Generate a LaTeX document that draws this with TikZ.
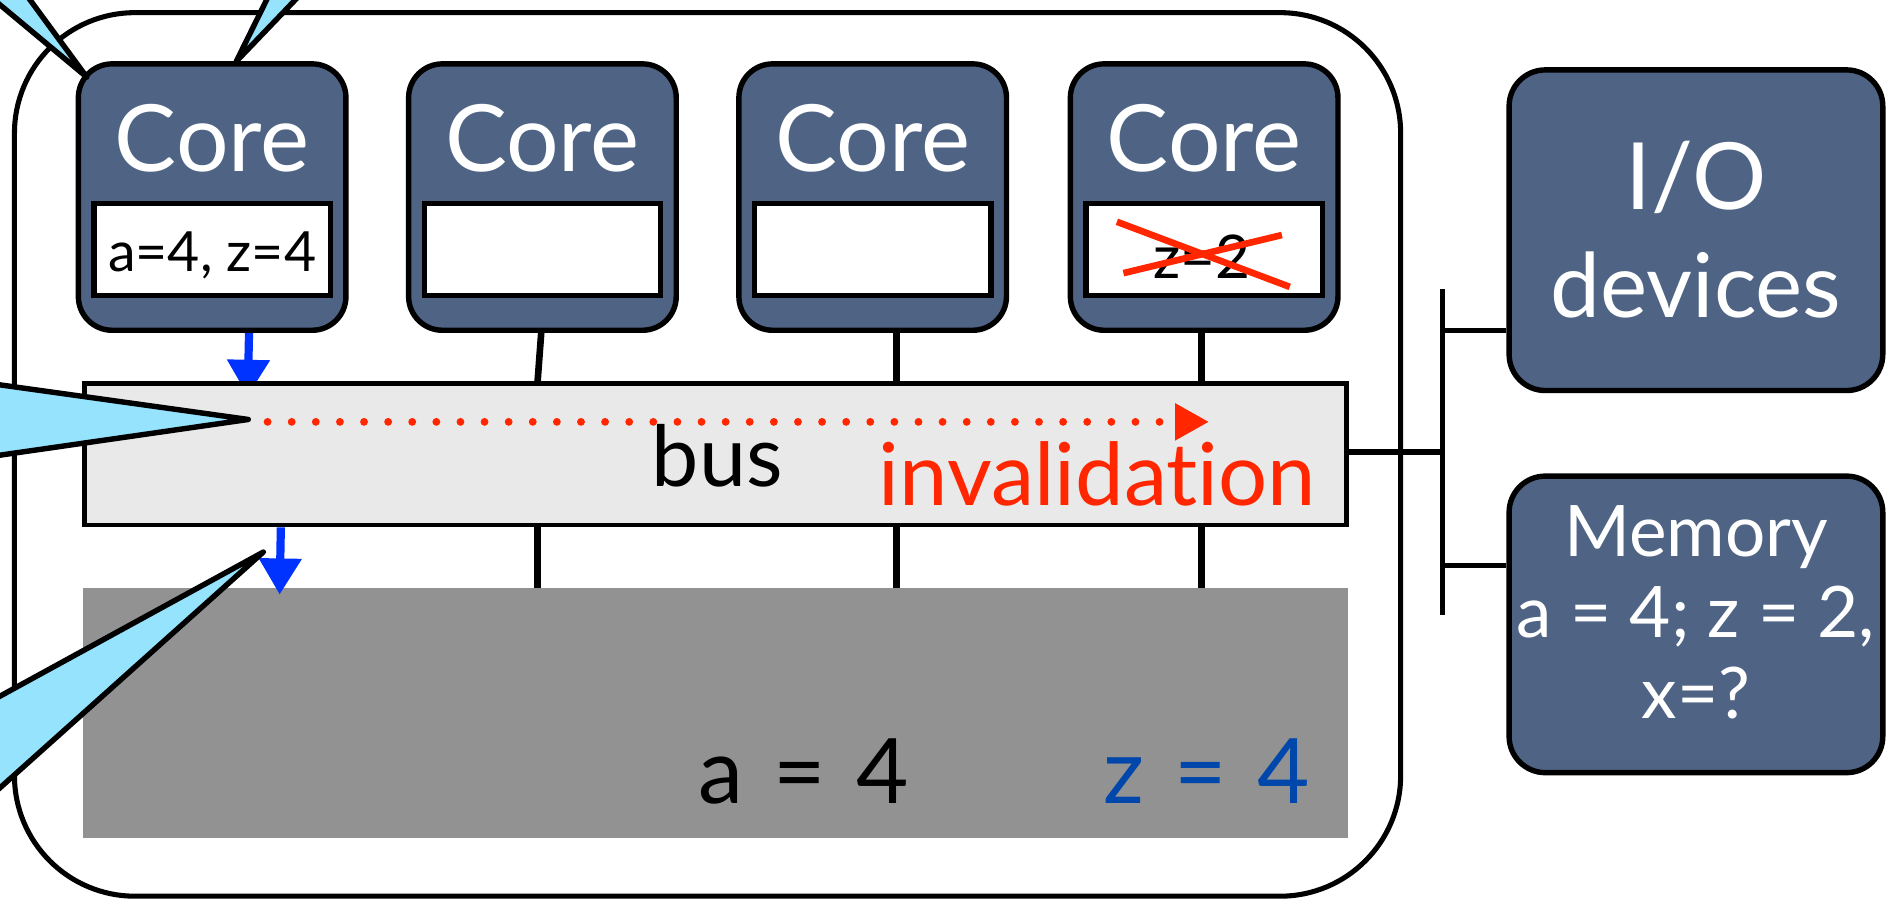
\documentclass[tikz,border=0pt]{standalone}
\usepackage{fontspec}
\setmainfont{Lato}[Ligatures=NoCommon]
\newfontfamily\gappedfont{Lato}[WordSpace=1.3, Ligatures=NoCommon]
\usetikzlibrary{arrows.meta,backgrounds}

\definecolor{corefill}{RGB}{79,100,132}
\definecolor{busfill}{RGB}{233,233,233}
\definecolor{slabfill}{RGB}{146,146,146}
\definecolor{callout}{RGB}{149,227,253}
\definecolor{inval}{RGB}{255,38,0}
\definecolor{pushblue}{RGB}{0,51,255}
\definecolor{valblue}{RGB}{0,71,171}

\begin{document}
\begin{tikzpicture}[x=1pt, y=-1pt,
  unitbox/.style={draw=black, line width=4.5pt, fill=corefill, rounded corners=28pt, inner sep=0pt},
  cachebox/.style={draw=black, line width=4.5pt, fill=white, minimum width=196pt, minimum height=76pt, inner sep=0pt},
  coretxt/.style={text=white, font=\fontsize{77}{77}\selectfont, anchor=base, inner sep=0pt},
  memtxt/.style={text=white, font=\fontsize{59}{59}\selectfont, anchor=base, inner sep=0pt},
  cachetxt/.style={text=black, font=\fontsize{46}{46}\selectfont, anchor=base, inner sep=0pt},
  slabtxt/.style={font=\fontsize{75}{75}\gappedfont, anchor=base, inner sep=0pt},
  wire/.style={line width=5.5pt},
  tree/.style={line width=4.2pt},
  push/.style={draw=pushblue, fill=pushblue, line width=6.8pt, -{Triangle[width=34pt,length=30pt]}},
  wedge/.style={draw=black, line width=4.5pt, fill=callout, line join=round},
]
\useasboundingbox (0,0) rectangle (1568,746);
\clip (0,0) rectangle (1568,746);

% chip outline
\node[draw, line width=4.2pt, rounded corners=100pt, minimum width=1150pt, minimum height=733pt, inner sep=0pt] (chip) at (587,377) {};

% shared slab below the bus
\node[fill=slabfill, minimum width=1049pt, minimum height=207pt, inner sep=0pt] (slab) at (593.5,591.5) {};
\node[slabtxt] (slabA) at (667,667) {a = 4};
\node[slabtxt, text=valblue] (slabZ) at (1001,667) {z = 4};

% bus
\node[draw, line width=4pt, fill=busfill, minimum width=1047pt, minimum height=117pt, inner sep=0pt] (bus) at (593.5,377) {};
\node[anchor=base, font=\fontsize{70}{70}\selectfont, inner sep=0pt] (bustxt) at (595,403.5) {bus};
\node[anchor=base, text=inval, font=\fontsize{72}{72}\selectfont, inner sep=0pt] (invtxt) at (910.5,419.5) {invalidation};

% cores
\node[unitbox, minimum width=222pt, minimum height=221pt] (c1) at (176,163.5) {};
\node[unitbox, minimum width=222pt, minimum height=221pt] (c2) at (450,163.5) {};
\node[unitbox, minimum width=222pt, minimum height=221pt] (c3) at (724,163.5) {};
\node[unitbox, minimum width=222pt, minimum height=221pt] (c4) at (999,163.5) {};
\node[coretxt] (c1t) at (176,142) {Core};
\node[coretxt] (c2t) at (450,142) {Core};
\node[coretxt] (c3t) at (724,142) {Core};
\node[coretxt] (c4t) at (999,142) {Core};

% private caches
\node[cachebox] (k1) at (176,207) {};
\node[cachebox] (k2) at (450,207) {};
\node[cachebox] (k3) at (724,207) {};
\node[cachebox] (k4) at (999,207) {};
\node[cachetxt] (k1t) at (176,225.5) {a=4, z=4};
\node[cachetxt, font=\fontsize{50}{50}\selectfont] (k4t) at (997,231) {z=2};
\draw[inval, line width=5.5pt] (926.6,184) -- (1070,238);
\draw[inval, line width=5.5pt] (932,226.6) -- (1063.5,195);

% core-to-bus and bus-to-slab wires
\draw[wire] (c2.south -| 449,0) -- (bus.north -| 446,0);
\draw[wire] (c3.south -| 744,0) -- (bus.north -| 744,0);
\draw[wire] (c4.south -| 997,0) -- (bus.north -| 997,0);
\draw[wire] (bus.south -| 446,0) -- (slab.north -| 446,0);
\draw[wire] (bus.south -| 744,0) -- (slab.north -| 744,0);
\draw[wire] (bus.south -| 997,0) -- (slab.north -| 997,0);

% write-back arrows (the first one slides under the bus)
\begin{scope}[on background layer]
\draw[push] (c1.south -| 206.6,0) -- ([yshift=-12pt]bus.north -| 205.5,0);
\end{scope}
\draw[push] (bus.south -| 233,0) -- ([yshift=-5.5pt]slab.north -| 232,0);

% invalidation broadcast
\coordinate (invS) at (222,350);
\coordinate (invE) at (1003,350);
\draw[inval, line width=6.5pt, line cap=round, dash pattern=on 0pt off 20pt,
      -{Triangle[width=29pt,length=28pt]}] (invS) -- (invE);

% I/O and memory
\node[unitbox, rounded corners=30pt, minimum width=310pt, minimum height=266pt] (io) at (1407,191) {};
\node[coretxt] (iot1) at (1407,174) {I/O};
\node[coretxt, font=\fontsize{74}{74}\selectfont] (iot2) at (1407,263) {devices};
\node[unitbox, rounded corners=30pt, minimum width=310pt, minimum height=246pt] (mem) at (1407,518) {};
\node[memtxt] (memt1) at (1407,462) {Memory};
\node[memtxt] (memt2) at (1407,529) {a = 4; z = 2,};
\node[memtxt] (memt3) at (1407,596) {x=?};

% bus extension to I/O and memory
\coordinate (tapT) at (1197,240);
\coordinate (tapB) at (1197,510);
\draw[tree] (tapT) -- (tapB);
\draw[tree] (bus.east |- 0,375) -- (tapT |- 0,375);
\draw[tree] (tapT |- 0,274) -- (io.west |- 0,274);
\draw[tree] (tapT |- 0,469) -- (mem.west |- 0,469);

% callout tails
\draw[wedge] (72,64) -- (-20,-12.7) -- (10.3,-20) -- cycle;
\draw[wedge] (196,51) -- (231,-20) -- (264,-20) -- cycle;
\draw[wedge] (206,348) -- (-20,316.5) -- (-20,380.5) -- cycle;
\draw[wedge] (218.5,458) -- (-20,588.5) -- (-20,671.5) -- cycle;
\end{tikzpicture}
\end{document}
